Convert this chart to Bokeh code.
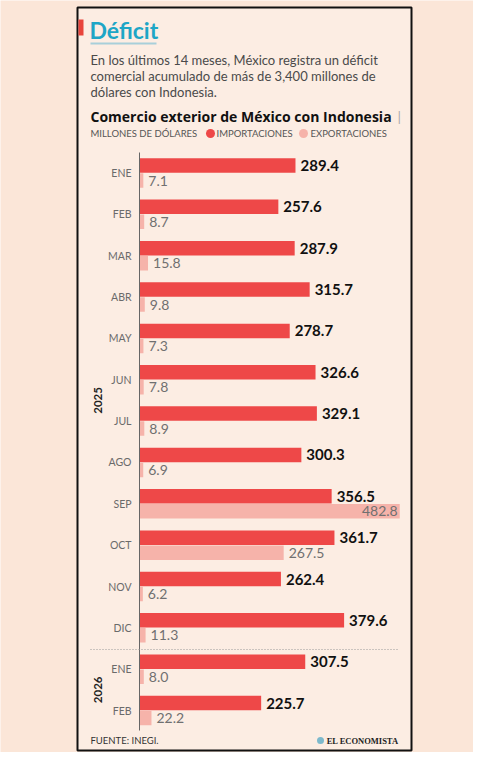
import math
from bokeh.plotting import figure
from bokeh.models import Range1d, ColumnDataSource
from bokeh.core.properties import value
from bokeh.embed import file_html
from bokeh.resources import INLINE

# ---- data ----
months = ["ENE", "FEB", "MAR", "ABR", "MAY", "JUN", "JUL", "AGO", "SEP", "OCT", "NOV", "DIC", "ENE", "FEB"]
years = ["2025"] * 12 + ["2026"] * 2
importaciones = [289.4, 257.6, 287.9, 315.7, 278.7, 326.6, 329.1, 300.3, 356.5, 361.7, 262.4, 379.6, 307.5, 225.7]
exportaciones = [7.1, 8.7, 15.8, 9.8, 7.3, 7.8, 8.9, 6.9, 482.8, 267.5, 6.2, 11.3, 8.0, 22.2]

title = "Déficit"
subtitle = ["En los últimos 14 meses, México registra un déficit",
            "comercial acumulado de más de 3,400 millones de",
            "dólares con Indonesia."]
chart_title = "Comercio exterior de México con Indonesia"
unit_label = "MILLONES DE DÓLARES"
legend_labels = ["IMPORTACIONES", "EXPORTACIONES"]
source_note = "FUENTE: INEGI."
brand = "EL ECONOMISTA"

# ---- style ----
RED = "#ee4848"
PINK = "#f6b3aa"
BG_OUT = "#fbe6d8"
BG_IN = "#fcede3"
CYAN = "#1ea6c6"
FONT = value("Lato")

W, H = 473, 752
ZERO_PX = 139.0          # px of value 0
K = 0.539                # px per million

def X(px):
    return (px - ZERO_PX) / K

def Y(py):
    return py

p = figure(width=W, height=H, output_backend="svg", toolbar_location=None,
           x_range=Range1d(-ZERO_PX / K, (W - ZERO_PX) / K),
           y_range=Range1d(H, 0),
           x_axis_type=None, y_axis_type=None, min_border=0,
           background_fill_color=BG_OUT, border_fill_color=BG_OUT,
           outline_line_color=None)
p.grid.visible = False

# frame box
p.quad(left=[X(77)], right=[X(411)], top=[Y(7)], bottom=[Y(750)],
       fill_color=BG_IN, line_color="#111111", line_width=2)
# red tab
p.quad(left=[X(78)], right=[X(83)], top=[Y(19)], bottom=[Y(35)],
       fill_color="#e8443c", line_color=None)

# title
p.text(x=[X(89)], y=[Y(29)], text=[title], text_font=FONT, text_font_style="bold",
       text_font_size="23px", text_color=CYAN, text_baseline="middle")
p.segment(x0=[X(90)], x1=[X(156)], y0=[Y(43)], y1=[Y(43)], line_color="#a8cfda", line_width=2)

# subtitle
sub_y = [Y(59 + i * 16.3) for i in range(len(subtitle))]
p.text(x=[X(90)] * len(subtitle), y=sub_y, text=subtitle, text_font=FONT,
       text_font_size="13px", text_color="#4a4a4a", text_baseline="middle")

# chart title
p.text(x=[X(90)], y=[Y(116)], text=[chart_title], text_font=value("Open Sans"), text_font_style="bold",
       text_font_size="14px", text_color="#111111", text_baseline="middle")
p.text(x=[X(397)], y=[Y(116)], text=["|"], text_font=FONT,
       text_font_size="14px", text_color="#aaaaaa", text_baseline="middle")

# legend line
p.text(x=[X(90)], y=[Y(133)], text=[unit_label], text_font=FONT,
       text_font_size="9.5px", text_color="#555555", text_baseline="middle")
p.scatter(x=[X(210), X(303)], y=[Y(133), Y(133)], size=9, marker="circle",
          fill_color=[RED, PINK], line_color=None)
p.text(x=[X(216), X(310)], y=[Y(133), Y(133)], text=legend_labels, text_font=FONT,
       text_font_size="9.5px", text_color="#555555", text_baseline="middle")

# bars
n = len(months)
STEP = 41.35
imp_y = [Y(165 + i * STEP) for i in range(n)]
exp_y = [Y(180 + i * STEP) for i in range(n)]
lab_y = [Y(172.5 + i * STEP) for i in range(n)]

src = ColumnDataSource(dict(month=months, imp=importaciones, exp=exportaciones,
                            imp_y=imp_y, exp_y=exp_y, lab_y=lab_y))
p.hbar(y="imp_y", left=0, right="imp", height=14.5, source=src, fill_color=RED, line_color=None)
p.hbar(y="exp_y", left=0, right="exp", height=14.5, source=src, fill_color=PINK, line_color=None)

# axis line
p.segment(x0=[0], x1=[0], y0=[Y(152)], y1=[Y(730)], line_color="#666666", line_width=1)

# separator between years
p.segment(x0=[X(90)], x1=[X(398)], y0=[Y(649)], y1=[Y(649)], line_color="#9a9a9a",
          line_width=1, line_dash="1 2")

# month labels
p.text(x=[X(131)] * n, y=lab_y, text=months, text_font=FONT, text_font_size="10.5px",
       text_color="#6a6a6a", text_align="right", text_baseline="middle")

# year labels
for yr in ["2025", "2026"]:
    idx = [i for i, v in enumerate(years) if v == yr]
    cy = sum(lab_y[i] for i in idx) / len(idx)
    p.text(x=[X(97)], y=[cy], text=[yr], text_font=FONT, text_font_style="bold",
           text_font_size="11.5px", text_color="#222222", text_align="center",
           text_baseline="middle", angle=math.pi / 2)

# value labels - imports
p.text(x=[v + 5 / K for v in importaciones], y=imp_y, text=[f"{v:.1f}" for v in importaciones],
       text_font=FONT, text_font_style="bold", text_font_size="15px", text_color="#111111",
       text_baseline="middle")

# value labels - exports
limit = X(402)
ex_in = [(v, y) for v, y in zip(exportaciones, exp_y) if v + 45 / K > limit]
ex_out = [(v, y) for v, y in zip(exportaciones, exp_y) if v + 45 / K <= limit]
if ex_out:
    p.text(x=[v + 5 / K for v, _ in ex_out], y=[y for _, y in ex_out],
           text=[f"{v:.1f}" for v, _ in ex_out], text_font=FONT, text_font_size="14px",
           text_color="#707070", text_baseline="middle")
if ex_in:
    p.text(x=[v - 2 / K for v, _ in ex_in], y=[y for _, y in ex_in],
           text=[f"{v:.1f}" for v, _ in ex_in], text_font=FONT, text_font_size="14px",
           text_color="#707070", text_align="right", text_baseline="middle")

# footer
FOOT_Y = Y(740)
p.text(x=[X(90)], y=[FOOT_Y], text=[source_note], text_font=FONT, text_font_size="9.5px",
       text_color="#333333", text_baseline="middle")
p.scatter(x=[X(320)], y=[FOOT_Y], size=7, marker="circle", fill_color="#7db9cc", line_color=None)
p.text(x=[X(398)], y=[FOOT_Y], text=[brand], text_font=value("Liberation Serif"),
       text_font_style="bold", text_font_size="8.5px", text_color="#222222",
       text_align="right", text_baseline="middle")

open("out.html", "w").write(file_html(p, INLINE))
